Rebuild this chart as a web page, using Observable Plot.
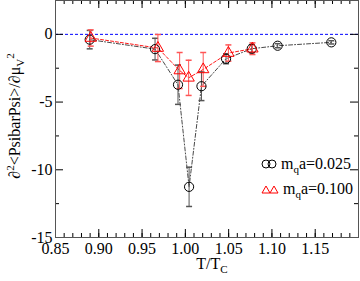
<!DOCTYPE html>
<html><head><meta charset="utf-8">
<script src="https://cdn.jsdelivr.net/npm/d3@7"></script>
<script src="https://cdn.jsdelivr.net/npm/@observablehq/plot@0.6"></script>
<style>
body{margin:0;background:#fff;}
#wrap{position:relative;width:360px;height:281px;font-family:"Liberation Serif",serif;}
#ylab{position:absolute;left:15px;top:116px;transform:translate(-50%,-50%) rotate(-90deg);white-space:nowrap;font-size:16px;line-height:1;}
#xlab{position:absolute;left:212px;top:256px;transform:translateX(-50%);font-size:16px;white-space:nowrap;line-height:1;}
.leg{position:absolute;font-size:16px;white-space:nowrap;line-height:1;display:flex;align-items:center;}
sub,sup{font-size:11px;line-height:0;}
</style></head><body>
<div id="wrap">
<div id="ylab">∂<sup>2</sup>&lt;PsibarPsi&gt;/∂μ<sub>V</sub><sup>2</sup></div>
<div id="xlab">T/T<sub>C</sub></div>
<div class="leg" style="left:261px;top:156px;"><svg width="16" height="12"><circle cx="5" cy="6" r="4" fill="none" stroke="#000"/><circle cx="11" cy="6" r="4" fill="none" stroke="#000"/></svg><span>&nbsp;m<sub>q</sub>a=0.025</span></div>
<div class="leg" style="left:261px;top:181px;"><svg width="18" height="12"><path d="M1,10L5,3L9,10Z M9,10L13,3L17,10Z" fill="none" stroke="#f00"/></svg><span>&nbsp;m<sub>q</sub>a=0.100</span></div>
</div>
<script>
const T_025 = [0.8895, 0.965, 0.9915, 1.0043, 1.0186, 1.047, 1.0767, 1.1066, 1.1686];
const V_025 = [-0.39, -1.09, -3.72, -11.26, -3.83, -1.80, -1.06, -0.84, -0.59];
const E_025 = [0.68, 0.8, 1.45, 1.45, 1.06, 0.37, 0.3, 0.15, 0.12];
const T_100 = [0.8907, 0.9683, 0.9934, 1.0038, 1.0206, 1.0497, 1.0775];
const V_100 = [-0.27, -1.01, -2.67, -3.21, -2.59, -1.38, -1.06];
const E_100 = [0.6, 1.0, 1.33, 1.3, 1.25, 0.6, 0.43];
const xMajor = [0.85, 0.90, 0.95, 1.00, 1.05, 1.10, 1.15, 1.20];
const xLabels = ["0.85","0.90","0.95","1.00","1.05","1.10","1.15"];
const xMinor = d3.range(85, 121).map(v => v / 100);
const yMajor = [-15, -10, -5, 0];
const yMinor = [-12.5, -7.5, -2.5, 2.5];

const s1 = T_025.map((t, i) => ({t, v: V_025[i], e: E_025[i]}));
const s2 = T_100.map((t, i) => ({t, v: V_100[i], e: E_100[i]}));

const cap = {draw(ctx, size) { const r = Math.sqrt(size / Math.PI); ctx.moveTo(-r, 0); ctx.lineTo(r, 0); }};

const W = 360, H = 281, ML = 55, MR = 2, MT = 0, MB = 44;
const pw = W - ML - MR, ph = H - MT - MB;

const chart = Plot.plot({
  width: W, height: H, marginLeft: ML, marginRight: MR, marginTop: MT, marginBottom: MB,
  x: {domain: [0.85, 1.2]},
  y: {domain: [-15, 2.5]},
  style: {fontFamily: "Liberation Serif", fontSize: "16px", color: "#000", background: "#fff"},
  marks: [
    Plot.ruleY([0], {stroke: "#00f", strokeDasharray: "3,2"}),
    Plot.line(s1, {x: "t", y: "v", stroke: "#333", strokeWidth: 0.9, strokeDasharray: "4,2,1,2"}),
    Plot.line(s2, {x: "t", y: "v", stroke: "#f00", strokeWidth: 0.9, strokeDasharray: "3,2"}),
    Plot.ruleX(s1, {x: "t", y1: d => d.v - d.e, y2: d => d.v + d.e, stroke: "#555"}),
    Plot.dot(s1, {x: "t", y: d => d.v - d.e, symbol: cap, r: 3, stroke: "#555", fill: "none"}),
    Plot.dot(s1, {x: "t", y: d => d.v + d.e, symbol: cap, r: 3, stroke: "#555", fill: "none"}),
    Plot.ruleX(s2, {x: "t", y1: d => d.v - d.e, y2: d => d.v + d.e, stroke: "#f55"}),
    Plot.dot(s2, {x: "t", y: d => d.v - d.e, symbol: cap, r: 3, stroke: "#f55", fill: "none"}),
    Plot.dot(s2, {x: "t", y: d => d.v + d.e, symbol: cap, r: 3, stroke: "#f55", fill: "none"}),
    Plot.dot(s1, {x: "t", y: "v", r: 4.6, stroke: "#000", fill: "none", strokeWidth: 1}),
    Plot.dot(s2, {x: "t", y: "v", r: 4.2, symbol: "triangle", stroke: "#f00", fill: "none", strokeWidth: 1}),
    Plot.tickX(xMajor, {x: d => d, insetTop: ph - 8, stroke: "#000"}),
    Plot.tickX(xMajor, {x: d => d, insetBottom: ph - 8, stroke: "#000"}),
    Plot.tickX(xMinor, {x: d => d, insetTop: ph - 4, stroke: "#000"}),
    Plot.tickX(xMinor, {x: d => d, insetBottom: ph - 4, stroke: "#000"}),
    Plot.tickY(yMajor, {y: d => d, insetRight: pw - 8, stroke: "#000"}),
    Plot.tickY(yMajor, {y: d => d, insetLeft: pw - 8, stroke: "#000"}),
    Plot.tickY(yMinor, {y: d => d, insetRight: pw - 4, stroke: "#000"}),
    Plot.tickY(yMinor, {y: d => d, insetLeft: pw - 4, stroke: "#000"}),
    Plot.axisX(xMajor.slice(0, 7), {tickSize: 0, tickPadding: 5, tickFormat: (d, i) => xLabels[i], label: null}),
    Plot.axisY(yMajor, {tickSize: 0, tickPadding: 3, tickFormat: d => String(d), label: null}),
    Plot.frame({stroke: "#555"})
  ]
});
document.getElementById("wrap").prepend(chart);
chart.style.position = "absolute"; chart.style.left = "0"; chart.style.top = "0";
</script>
</body></html>
